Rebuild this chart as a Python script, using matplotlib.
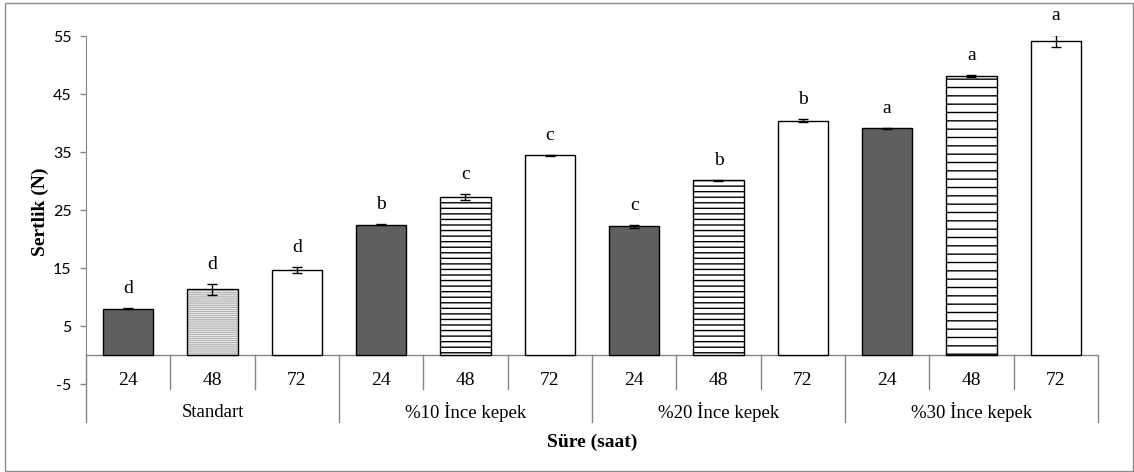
import matplotlib.pyplot as plt
from matplotlib.patches import Rectangle

# data
groups = ['Standart', '%10 İnce kepek', '%20 İnce kepek', '%30 İnce kepek']
hours = ['24', '48', '72']
values = [8.0, 11.3, 14.7, 22.5, 27.3, 34.4, 22.2, 30.1, 40.4, 39.1, 48.1, 54.1]
errors = [0.05, 0.9, 0.5, 0.1, 0.5, 0.15, 0.3, 0.1, 0.3, 0.1, 0.2, 1.0]
letters = ['d', 'd', 'd', 'b', 'c', 'c', 'c', 'b', 'b', 'a', 'a', 'a']

W, H = 1134, 472
SERIF = 'Liberation Serif'
AXIS_GRAY = '#868686'
plt.rcParams['axes.unicode_minus'] = False

fig = plt.figure(figsize=(W / 100, H / 100), dpi=100)
ax = fig.add_axes([86 / W, 1 - 384 / H, 1012 / W, 348 / H])

n = len(values)
x = list(range(n))

# bar styles: 24 h dark, 48 h hatched, 72 h white
for i in x:
    h = i % 3
    g = i // 3
    if h == 0:
        ax.bar(i, values[i], width=0.593, color='#5f5f5f', edgecolor='black', lw=1.0, zorder=3)
    elif h == 1:
        if g == 0:
            ax.bar(i, values[i], width=0.593, color='white', edgecolor='#b4b4b4',
                   hatch='-' * 8, lw=0, zorder=3)
        else:
            hatch = '--' if g == 3 else '---'
            ax.bar(i, values[i], width=0.593, color='white', edgecolor='black',
                   hatch=hatch, lw=0, zorder=3)
        ax.bar(i, values[i], width=0.593, fill=False, edgecolor='black', lw=1.0, zorder=4)
    else:
        ax.bar(i, values[i], width=0.593, color='white', edgecolor='black', lw=1.0, zorder=3)

ax.errorbar(x, values, yerr=errors, fmt='none', ecolor='black', elinewidth=1.0,
            capsize=3.5, capthick=1.0, zorder=5)

for i in x:
    ax.annotate(letters[i], (i, values[i] + errors[i]), xytext=(0, 14),
                textcoords='offset points', ha='center', va='center',
                fontsize=14, family=SERIF, annotation_clip=False)

ax.set_xlim(-0.5, n - 0.5)
ax.set_ylim(-5, 55)
ax.set_yticks(range(-5, 56, 10))
ax.set_xticks([])
ax.axhline(0, color=AXIS_GRAY, lw=1.0, zorder=2)

for side in ['top', 'right', 'bottom']:
    ax.spines[side].set_visible(False)
ax.spines['left'].set_color(AXIS_GRAY)
ax.tick_params(axis='y', colors=AXIS_GRAY, length=4, width=1, direction='out', pad=6.5)
for lab in ax.get_yticklabels():
    lab.set_color('black')
    lab.set_family('Lato')
    lab.set_fontsize(11.5)

# multi-level category axis
for i in x:
    ax.text(i, -4.4, hours[i % 3], ha='center', va='center', fontsize=14,
            family=SERIF, clip_on=False)
for g, name in enumerate(groups):
    ax.text(g * 3 + 1, -9.9, name, ha='center', va='center', fontsize=13.5,
            family=SERIF, clip_on=False)
for k in range(n + 1):
    bottom = -11.5 if k % 3 == 0 else -5.8
    ax.plot([k - 0.5, k - 0.5], [0, bottom], color=AXIS_GRAY, lw=1.0, clip_on=False, zorder=2)

fig.text(40 / W, 1 - 212 / H, 'Sertlik (N)', rotation=90, ha='center', va='center',
         fontsize=14, fontweight='bold', family=SERIF)
fig.text(592 / W, 1 - 442 / H, 'Süre (saat)', ha='center', va='center',
         fontsize=14, fontweight='bold', family=SERIF)

fig.patches.append(Rectangle((5 / W, 1 - 471 / H), 1128 / W, 468 / H, transform=fig.transFigure,
                             fill=False, edgecolor='#8c8c8c', lw=1.0))

fig.savefig('out.png', dpi=100)
